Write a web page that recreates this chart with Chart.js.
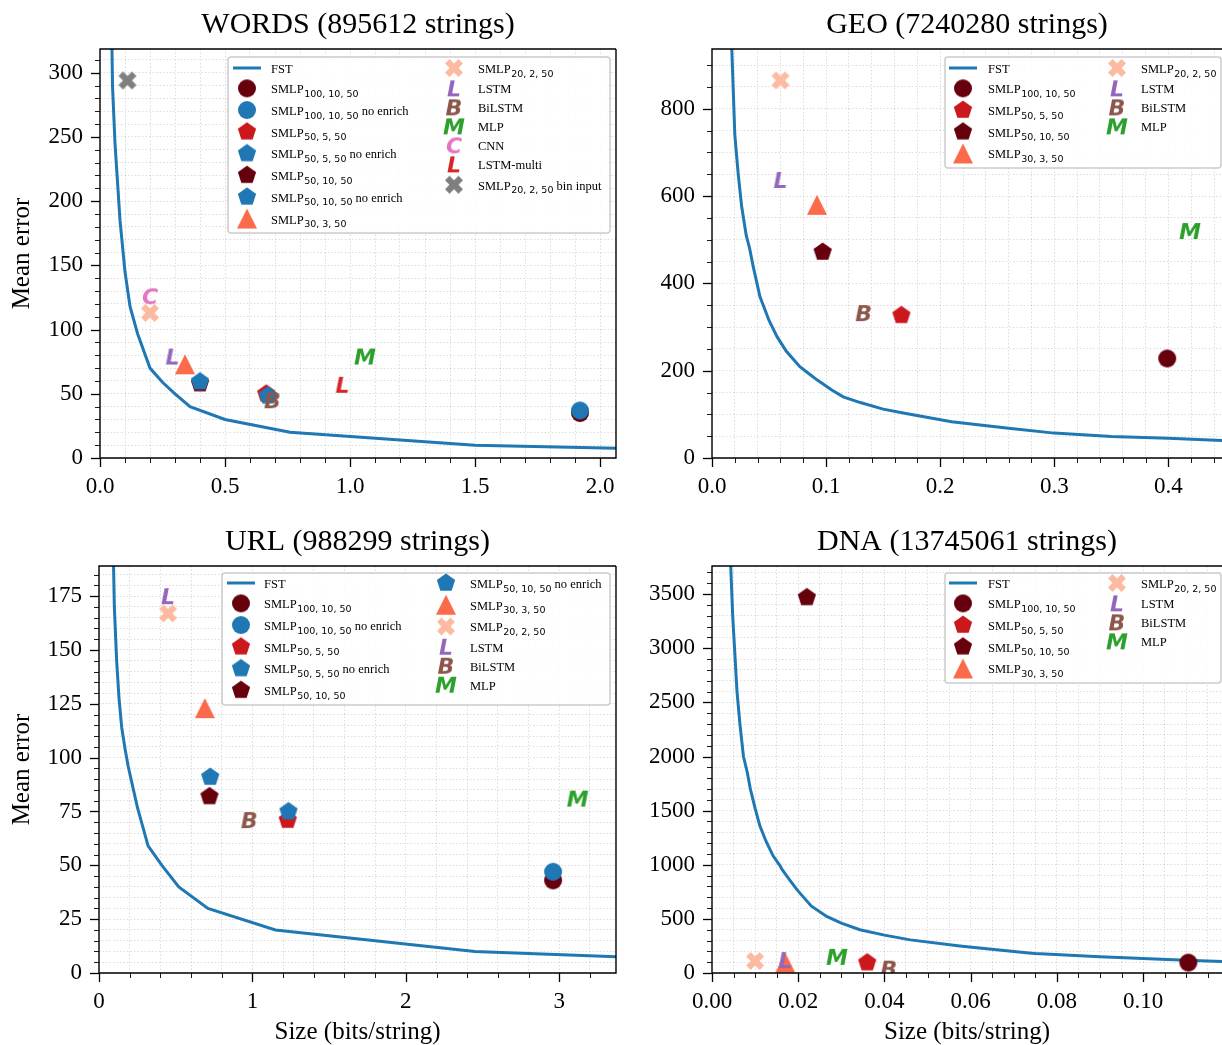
<!DOCTYPE html>
<html>
<head>
<meta charset="utf-8">
<script src="https://cdn.jsdelivr.net/npm/chart.js@4.4.1/dist/chart.umd.min.js"></script>
<style>
  body { margin: 0; background: #fff; width: 1222px; height: 1045px; overflow: hidden; position: relative; }
  canvas { position: absolute; }
</style>
</head>
<body>
<canvas id="words" width="621" height="500" style="left:0;top:0"></canvas>
<canvas id="geo" width="601" height="500" style="left:621px;top:0"></canvas>
<canvas id="url" width="621" height="545" style="left:0;top:500px"></canvas>
<canvas id="dna" width="601" height="545" style="left:621px;top:500px"></canvas>
<script>
// ---- WORDS ----
const wordsFstX = [0.042, 0.05, 0.06, 0.07, 0.08, 0.09, 0.10, 0.12, 0.15, 0.20, 0.25, 0.30, 0.36, 0.50, 0.76, 1.50, 2.10];
const wordsFstY = [400, 290, 245, 215, 185, 165, 145, 118, 97, 70, 59, 50, 40, 30, 20, 10, 7.5];
const wordsSeries = ['smlp100', 'smlp100ne', 'smlp50_5', 'smlp50_5ne', 'smlp50_10', 'smlp50_10ne', 'smlp30', 'smlp20', 'lstm', 'bilstm', 'mlp', 'cnn', 'lstmMulti', 'smlp20bin'];
const wordsX = [1.92, 1.92, 0.665, 0.672, 0.40, 0.40, 0.34, 0.20, 0.29, 0.69, 1.06, 0.20, 0.97, 0.11];
const wordsY = [35, 37, 50, 48.5, 58, 59.5, 73, 113, 79, 45, 79, 126, 57, 294];

// ---- GEO ----
const geoFstX = [0.0165, 0.02, 0.023, 0.026, 0.030, 0.033, 0.036, 0.042, 0.05, 0.057, 0.065, 0.073, 0.077, 0.085, 0.092, 0.105, 0.115, 0.13, 0.15, 0.17, 0.21, 0.26, 0.30, 0.35, 0.40, 0.45];
const geoFstY = [1000, 740, 650, 576, 510, 480, 440, 370, 315, 278, 245, 221, 209, 193, 179, 156, 140, 127, 112, 102, 83, 68, 57, 49, 45, 40];
const geoSeries = ['smlp100', 'smlp50_5', 'smlp50_10', 'smlp30', 'smlp20', 'lstm', 'bilstm', 'mlp'];
const geoX = [0.399, 0.166, 0.097, 0.092, 0.060, 0.060, 0.133, 0.419];
const geoY = [228, 327, 472, 580, 865, 637, 332, 520];

// ---- URL ----
const urlFstX = [0.085, 0.1, 0.115, 0.13, 0.148, 0.17, 0.19, 0.25, 0.32, 0.41, 0.52, 0.71, 1.15, 2.45, 3.4];
const urlFstY = [225, 170, 145, 128, 114, 104, 96, 77, 59, 50, 40, 30, 20, 10, 7.5];
const urlSeries = ['smlp100', 'smlp100ne', 'smlp50_5', 'smlp50_5ne', 'smlp50_10', 'smlp50_10ne', 'smlp30', 'smlp20', 'lstm', 'bilstm', 'mlp'];
const urlX = [2.96, 2.96, 1.23, 1.235, 0.72, 0.725, 0.69, 0.45, 0.45, 0.98, 3.12];
const urlY = [43, 47, 71, 75, 82, 91, 123, 167, 175, 71, 81];

// ---- DNA ----
const dnaFstX = [0.0040, 0.0044, 0.0048, 0.0053, 0.0058, 0.0065, 0.0073, 0.0082, 0.0089, 0.010, 0.0111, 0.0125, 0.0142, 0.0158, 0.0162, 0.018, 0.0197, 0.023, 0.0266, 0.030, 0.0343, 0.040, 0.046, 0.0575, 0.066, 0.0735, 0.075, 0.09, 0.11, 0.12];
const dnaFstY = [4200, 3700, 3300, 2950, 2600, 2290, 2000, 1850, 1700, 1520, 1360, 1220, 1080, 990, 960, 860, 770, 620, 523, 460, 400, 350, 306, 250, 215, 185, 180, 150, 118, 105];
const dnaSeries = ['smlp100', 'smlp50_5', 'smlp50_10', 'smlp30', 'smlp20', 'lstm', 'bilstm', 'mlp'];
const dnaX = [0.1105, 0.036, 0.022, 0.017, 0.010, 0.017, 0.041, 0.029];
const dnaY = [96, 96, 3470, 95, 111, 120, 40, 149];

// legend text: [name, subscript, suffix]
const seriesLabels = {
    fst: ['FST'],
    smlp100: ['SMLP', '100, 10, 50'],
    smlp100ne: ['SMLP', '100, 10, 50', ' no enrich'],
    smlp50_5: ['SMLP', '50, 5, 50'],
    smlp50_5ne: ['SMLP', '50, 5, 50', ' no enrich'],
    smlp50_10: ['SMLP', '50, 10, 50'],
    smlp50_10ne: ['SMLP', '50, 10, 50', ' no enrich'],
    smlp30: ['SMLP', '30, 3, 50'],
    smlp20: ['SMLP', '20, 2, 50'],
    lstm: ['LSTM'],
    bilstm: ['BiLSTM'],
    mlp: ['MLP'],
    cnn: ['CNN'],
    lstmMulti: ['LSTM-multi'],
    smlp20bin: ['SMLP', '20, 2, 50', ' bin input']
};

const seriesStyle = {
    smlp100: { shape: 'circle', color: '#67000d' },
    smlp100ne: { shape: 'circle', color: '#1f77b4' },
    smlp50_5: { shape: 'pentagon', color: '#cb181d' },
    smlp50_5ne: { shape: 'pentagon', color: '#1f77b4' },
    smlp50_10: { shape: 'pentagon', color: '#67000d' },
    smlp50_10ne: { shape: 'pentagon', color: '#1f77b4' },
    smlp30: { shape: 'triangle', color: '#fb6a4a' },
    smlp20: { shape: 'X', color: '#fcbba1' },
    lstm: { shape: 'L', color: '#9467bd' },
    bilstm: { shape: 'B', color: '#8c564b' },
    mlp: { shape: 'M', color: '#2ca02c' },
    cnn: { shape: 'C', color: '#e377c2' },
    lstmMulti: { shape: 'L', color: '#d62728' },
    smlp20bin: { shape: 'X', color: '#7f7f7f' }
};

const SERIF = '"Liberation Serif", "Times New Roman", serif';
const markerCache = {};

function makeMarker(shape, color) {
    const key = shape + color;
    if (markerCache[key]) return markerCache[key];
    const c = document.createElement('canvas');
    c.width = 30; c.height = 30;
    const g = c.getContext('2d');
    g.translate(15, 15);
    g.fillStyle = color;
    g.beginPath();
    if (shape === 'circle') {
        g.arc(0, 0, 9, 0, Math.PI * 2);
    } else if (shape === 'pentagon') {
        for (let k = 0; k < 5; k++) {
            const a = -Math.PI / 2 + k * 2 * Math.PI / 5;
            g.lineTo(9.6 * Math.cos(a), 9.6 * Math.sin(a));
        }
    } else if (shape === 'triangle') {
        g.moveTo(0, -10); g.lineTo(10, 10); g.lineTo(-10, 10);
    } else if (shape === 'X') {
        const pts = [[-1, -2], [0, -1], [1, -2], [2, -1], [1, 0], [2, 1], [1, 2], [0, 1], [-1, 2], [-2, 1], [-1, 0], [-2, -1]];
        pts.forEach(p => g.lineTo(p[0] * 4.5, p[1] * 4.5));
    }
    g.closePath();
    if (shape.length === 1 && shape !== 'X') {
        g.font = 'italic bold 22px "DejaVu Sans"';
        g.textAlign = 'center';
        g.textBaseline = 'alphabetic';
        g.fillText(shape, 0, 8);
    } else {
        g.fill();
    }
    markerCache[key] = c;
    return c;
}

function linearAxis(min, max, major, minor, digits, extra) {
    return Object.assign({
        type: 'linear', min: min, max: max,
        afterBuildTicks(scale) {
            const ticks = [];
            const n = Math.floor((max - min) / minor + 1e-6);
            for (let i = 0; i <= n; i++) {
                const v = +(min + i * minor).toFixed(6);
                const r = v / major;
                ticks.push({ value: v, isMajor: Math.abs(r - Math.round(r)) < 1e-6 });
            }
            scale.ticks = ticks;
        },
        ticks: {
            autoSkip: false, maxRotation: 0, color: '#000',
            font: { family: SERIF, size: 23 },
            callback(value, i, ticks) { return ticks[i].isMajor ? value.toFixed(digits) : ''; }
        },
        grid: { color: 'rgba(0,0,0,0.17)', lineWidth: 0.8, drawTicks: false },
        border: { display: false, dash: [1.5, 2] }
    }, extra);
}

// spines + outward tick marks
const axesDecor = {
    id: 'axesDecor',
    afterDraw(chart, args, opts) {
        const { ctx, chartArea: a } = chart;
        const xs = chart.scales.x, ys = chart.scales.y;
        ctx.save();
        ctx.strokeStyle = '#000';
        xs.ticks.forEach(t => {
            const p = Math.round(xs.getPixelForValue(t.value)) + 0.5;
            ctx.lineWidth = t.isMajor ? 1.3 : 0.9;
            ctx.beginPath(); ctx.moveTo(p, a.bottom); ctx.lineTo(p, a.bottom + (t.isMajor ? 9 : 5)); ctx.stroke();
        });
        ys.ticks.forEach(t => {
            const p = Math.round(ys.getPixelForValue(t.value)) + 0.5;
            ctx.lineWidth = t.isMajor ? 1.3 : 0.9;
            ctx.beginPath(); ctx.moveTo(a.left, p); ctx.lineTo(a.left - (t.isMajor ? 9 : 5), p); ctx.stroke();
        });
        ctx.lineWidth = 1.4;
        ctx.beginPath();
        ctx.moveTo(a.right, a.top); ctx.lineTo(a.left, a.top); ctx.lineTo(a.left, a.bottom); ctx.lineTo(a.right, a.bottom);
        if (opts.rightSpine) ctx.lineTo(a.right, a.top);
        ctx.stroke();
        ctx.restore();
    }
};

// two-column legend with subscripts
const panelLegend = {
    id: 'panelLegend',
    afterDraw(chart, args, opts) {
        const ctx = chart.ctx;
        const b = opts.box;
        ctx.save();
        ctx.fillStyle = 'rgba(255,255,255,0.85)';
        ctx.strokeStyle = '#cccccc';
        ctx.lineWidth = 1.5;
        ctx.beginPath();
        ctx.roundRect(b.x, b.y, b.w, b.h, 3);
        ctx.fill(); ctx.stroke();

        const ds = chart.data.datasets;
        const nFirst = Math.ceil(ds.length / 2);
        const cols = [ds.slice(0, nFirst), ds.slice(nFirst)];
        cols.forEach((items, ci) => {
            const mx = opts.cols[ci][0], tx = opts.cols[ci][1];
            let cy = opts.y0, prevH = null;
            items.forEach(d => {
                const lab = seriesLabels[d.sid];
                const h = lab[1] ? 21.7 : 19;
                if (prevH !== null) cy += (prevH + h) / 2;
                prevH = h;
                if (d.sid === 'fst') {
                    ctx.strokeStyle = '#1f77b4'; ctx.lineWidth = 3;
                    ctx.beginPath(); ctx.moveTo(mx - 14, cy); ctx.lineTo(mx + 14, cy); ctx.stroke();
                } else {
                    const m = d.pointStyle;
                    ctx.drawImage(m, mx - m.width / 2, cy - m.height / 2);
                }
                const base = cy + 5;
                let x = tx;
                ctx.fillStyle = '#000';
                ctx.textBaseline = 'alphabetic';
                ctx.font = '12.5px ' + SERIF;
                ctx.fillText(lab[0], x, base);
                x += ctx.measureText(lab[0]).width;
                if (lab[1]) {
                    ctx.font = '9.5px "DejaVu Sans"';
                    ctx.fillText(lab[1], x + 0.5, base + 3.5);
                    x += ctx.measureText(lab[1]).width + 0.5;
                }
                if (lab[2]) {
                    ctx.font = '12.5px ' + SERIF;
                    ctx.fillText(lab[2], x, base);
                }
            });
        });
        ctx.restore();
    }
};

function makePanel(id, title, fstX, fstY, series, xs, ys, o) {
    const datasets = [{
        sid: 'fst', label: 'FST',
        data: fstX.map((x, i) => ({ x: x, y: fstY[i] })),
        showLine: true, borderColor: '#1f77b4', borderWidth: 3, pointRadius: 0,
        tension: 0, fill: false, order: 0, clip: 0
    }];
    series.forEach((sid, i) => {
        const st = seriesStyle[sid];
        datasets.push({
            sid: sid, label: seriesLabels[sid].join(''),
            data: [{ x: xs[i], y: ys[i] }],
            pointStyle: makeMarker(st.shape, st.color),
            pointRadius: 9, order: -(i + 1), clip: 0
        });
    });

    const xExtra = {
        afterFit(s) { s.height = o.xHeight; s.paddingLeft = 0; s.paddingRight = 0; }
    };
    if (o.xTitle) {
        xExtra.title = { display: true, text: 'Size (bits/string)', color: '#000', font: { family: SERIF, size: 25, lineHeight: 1 }, padding: { top: 0, bottom: 0 } };
    }
    const yExtra = {
        afterFit(s) { s.width = o.yWidth; s.paddingTop = 0; s.paddingBottom = 0; }
    };
    if (o.yTitle) {
        yExtra.title = { display: true, text: 'Mean error', color: '#000', font: { family: SERIF, size: 25, lineHeight: 1 }, padding: { top: 9.5, bottom: 0 } };
    }
    const xAxis = linearAxis(o.x[0], o.x[1], o.x[2], o.x[3], o.x[4], xExtra);
    xAxis.ticks.padding = 15;
    const yAxis = linearAxis(o.y[0], o.y[1], o.y[2], o.y[3], 0, yExtra);
    yAxis.ticks.padding = 17;

    new Chart(document.getElementById(id), {
        type: 'scatter',
        data: { datasets: datasets },
        options: {
            responsive: false,
            animation: false,
            layout: { autoPadding: false, padding: { left: 0, right: o.padRight, top: 0, bottom: 0 } },
            scales: { x: xAxis, y: yAxis },
            plugins: {
                legend: { display: false },
                tooltip: { enabled: false },
                title: {
                    display: true, text: title, color: '#000', fullSize: false,
                    font: { family: SERIF, size: 30, weight: 'normal', lineHeight: 1 },
                    padding: o.titlePad
                },
                axesDecor: { rightSpine: o.rightSpine },
                panelLegend: o.legend
            }
        },
        plugins: [axesDecor, panelLegend]
    });
}

makePanel('words', 'WORDS (895612 strings)', wordsFstX, wordsFstY, wordsSeries, wordsX, wordsY, {
    x: [0, 2.064, 0.5, 0.1, 1], y: [0, 318.5, 50, 10],
    xHeight: 42, yWidth: 100, padRight: 5, yTitle: true, xTitle: false, rightSpine: true,
    titlePad: { top: 10, bottom: 9 },
    legend: { box: { x: 228, y: 57, w: 382, h: 176 }, cols: [[247, 271], [454, 478]], y0: 68 }
});

makePanel('geo', 'GEO (7240280 strings)', geoFstX, geoFstY, geoSeries, geoX, geoY, {
    x: [0, 0.447, 0.1, 0.02, 1], y: [0, 937, 200, 50],
    xHeight: 42, yWidth: 91, padRight: 0, yTitle: false, xTitle: false, rightSpine: false,
    titlePad: { top: 10, bottom: 9 },
    legend: { box: { x: 324, y: 57, w: 276, h: 111 }, cols: [[342, 367], [496, 520]], y0: 68 }
});

makePanel('url', 'URL (988299 strings)', urlFstX, urlFstY, urlSeries, urlX, urlY, {
    x: [0, 3.37, 1, 0.2, 0], y: [0, 189, 25, 5],
    xHeight: 72, yWidth: 99, padRight: 5, yTitle: true, xTitle: true, rightSpine: true,
    titlePad: { top: 27, bottom: 9 },
    legend: { box: { x: 222, y: 73, w: 388, h: 132 }, cols: [[241, 264], [446, 470]], y0: 83 }
});

makePanel('dna', 'DNA (13745061 strings)', dnaFstX, dnaFstY, dnaSeries, dnaX, dnaY, {
    x: [0, 0.1183, 0.02, 0.005, 2], y: [0, 3760, 500, 100],
    xHeight: 72, yWidth: 91, padRight: 0, yTitle: false, xTitle: true, rightSpine: false,
    titlePad: { top: 27, bottom: 9 },
    legend: { box: { x: 324, y: 73, w: 276, h: 110 }, cols: [[342, 367], [496, 520]], y0: 83 }
});
</script>
</body>
</html>
